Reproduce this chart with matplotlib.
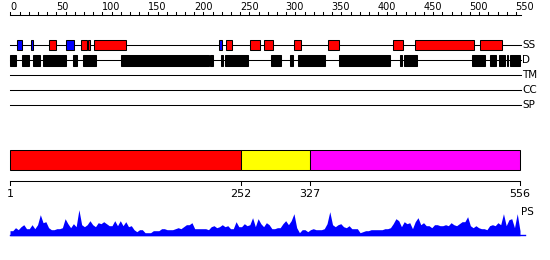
import matplotlib
matplotlib.use("Agg")
import matplotlib.pyplot as plt
from matplotlib.patches import Rectangle

# ---------------------------------
# data
# ---------------------------------
seq_len = 556

# secondary structure: (start, end, type)  H = helix (red), E = strand (blue)
ss_segments = [
    (7, 12, "E"), (22, 25, "E"), (42, 49, "H"), (60, 69, "E"),
    (77, 83, "H"), (84, 87, "H"), (91, 126, "H"), (227, 230, "E"),
    (235, 241, "H"), (261, 272, "H"), (276, 286, "H"), (309, 316, "H"),
    (346, 357, "H"), (416, 427, "H"), (440, 504, "H"), (511, 535, "H"),
]

# disordered regions
d_segments = [
    (0, 6), (13, 20), (24, 32), (35, 60), (68, 72), (79, 93),
    (120, 216), (217, 220), (229, 231), (233, 258), (283, 294),
    (304, 307), (313, 342), (357, 413), (424, 426), (428, 442),
    (502, 516), (522, 528), (532, 538), (540, 541.5), (543, 554),
]

track_names = ["SS", "D", "TM", "CC", "SP"]

# domain boundaries
dom_bounds = [1, 252, 327, 556]
dom_colors = ["#ff0000", "#ffff00", "#ff00ff"]

# PS profile, one value every 3 residues (1, 4, 7, ... 556)
ps_values = [
    5, 5, 8, 6, 9, 11, 7, 7, 11, 7, 11, 21, 13, 14, 8, 6, 6, 7, 7, 8,
    17, 12, 8, 12, 9, 26, 11, 9, 11, 15, 11, 9, 13, 12, 14, 12, 10, 10, 15, 10,
    15, 10, 14, 9,
    10, 6, 4, 6, 6, 3, 3, 3, 5, 5, 5, 7, 7, 6, 6, 6, 7, 8, 7, 9,
    11, 11, 13, 7, 7, 7, 7, 7, 6, 9, 10, 8, 9, 11, 9, 10, 7, 7, 14, 9,
    9, 12, 10, 11, 18,
    9, 17, 12, 9, 13, 11, 7, 7, 8, 8, 12, 15, 11, 15, 22, 8, 3, 6, 6, 4,
    6, 7, 6, 6, 6, 7, 12, 24, 11, 9, 11, 12, 9, 8, 10, 7, 7, 7, 3, 4,
    5, 5, 6, 6,
    6, 6, 6, 7, 7, 8, 12, 17, 15, 9, 14, 12, 13, 7, 14, 18, 11, 13, 10, 10,
    8, 11, 11, 10, 10, 11, 10, 13, 11, 10, 12, 14, 14, 19, 10, 8, 10, 8, 7, 7,
    6, 10, 11, 10, 13, 11, 22, 10, 16, 17,
    8, 22, 5,
]
ps_pos = list(range(1, seq_len + 1, 3))

# ---------------------------------
# figure: two overlaid axes, y in pixels
# ---------------------------------
fig = plt.figure(figsize=(5.5, 2.6), dpi=100)

ax_top = fig.add_axes([0, 0, 1, 1])
ax_top.set_xlim(-10.5 / 0.919, (550 - 10.5) / 0.919)
ax_top.set_ylim(260, 0)
ax_top.axis("off")

ax_bot = fig.add_axes([0, 0, 1, 1])
rpp = (seq_len - 1) / 510.0
ax_bot.set_xlim(1 - 10 * rpp, 1 + 540 * rpp)
ax_bot.set_ylim(260, 0)
ax_bot.axis("off")

lw = 0.75

# ---------------------------------
# top ruler
# ---------------------------------
ax_top.plot([0, seq_len], [15, 15], color="black", lw=lw)
for t in range(0, 551, 10):
    ax_top.plot([t, t], [12, 15], color="black", lw=lw)
for t in range(0, 551, 50):
    ax_top.text(t - 0.5, 11.5, str(t), fontsize=7, ha="left", va="bottom")

# ---------------------------------
# tracks
# ---------------------------------
track_y = [45, 60, 75, 90, 105]
for name, y in zip(track_names, track_y):
    ax_top.plot([0, seq_len], [y, y], color="black", lw=lw, zorder=1)
    ax_top.text(seq_len + 0.5, y, name, fontsize=7.5, ha="left", va="center")

for start, end, kind in ss_segments:
    color = "#ff0000" if kind == "H" else "#0000ff"
    ax_top.add_patch(Rectangle((start, 40), end - start, 10,
                               facecolor=color, edgecolor="black", lw=lw, zorder=2))

for start, end in d_segments:
    ax_top.add_patch(Rectangle((start, 55), end - start, 10.5,
                               facecolor="black", edgecolor="black", lw=lw, zorder=2))

# ---------------------------------
# domain bar
# ---------------------------------
for i, color in enumerate(dom_colors):
    a, b = dom_bounds[i], dom_bounds[i + 1]
    ax_bot.add_patch(Rectangle((a, 150), b - a, 20,
                               facecolor=color, edgecolor="black", lw=lw))

ax_bot.plot([dom_bounds[0], dom_bounds[-1]], [180.5, 180.5], color="black", lw=lw)
for b in dom_bounds:
    ax_bot.plot([b, b], [180.5, 185], color="black", lw=lw)
    ax_bot.text(b, 189, str(b), fontsize=8, ha="center", va="top")

# ---------------------------------
# PS profile
# ---------------------------------
base = 235.7
ax_bot.fill_between(ps_pos, [base - v for v in ps_values], base,
                    color="#0000ff", lw=0)
ax_bot.plot([1, seq_len + 5], [base - 0.5, base - 0.5], color="#0000ff", lw=1)
ax_bot.text(seq_len + 1, 212, "PS", fontsize=7.5, ha="left", va="center")

fig.savefig("out.png", dpi=100)
